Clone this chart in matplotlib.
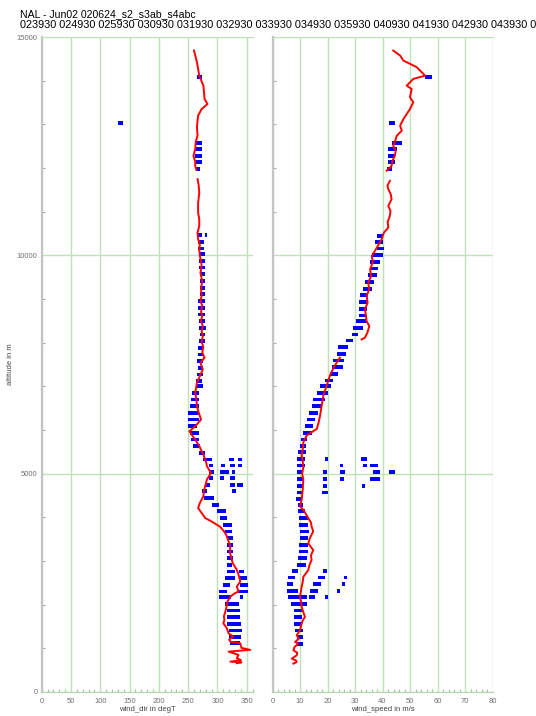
import numpy as np
import matplotlib
matplotlib.use("Agg")
import matplotlib.pyplot as plt
from matplotlib.ticker import MultipleLocator

plt.rcParams["font.family"] = ["Liberation Sans", "DejaVu Sans"]

nan = float("nan")

TITLE = "NAL - Jun02 020624_s2_s3ab_s4abc"
TIMES = ["023930", "024930", "025930", "030930", "031930", "032930", "033930",
         "034930", "035930", "040930", "041930", "042930", "043930", "044930"]

# red profile, wind direction (altitude m, degT); nan = gap in the trace
dir_alt = [14690, 14420, 14115, 13885, 13580, 13465, 13350, 13200, 12950, 12740,
           12600, 12430, 12280, 12150, 12050, 11960, nan, 11745, 11600, 11440,
           11200, 10980, 10820, 10675, 10520, 10370, 10250, 10140, 9985, 9870,
           9755, 9600, 9400, 9250, 9070, 8950, 8850, 8700, 8610, 8500, 8380,
           8260, 8150, 8020, 7900, 7780, 7655, 7540, 7385, 7235, 7080, 6850,
           6700, 6545, 6400, 6240, 6085, 5970, 5895, 5780, 5630, 5435, 5245,
           5170, 5015, 4865, 4710, 4600, 4480, 4330, 4215, 4100, 3985, 3905,
           3790, 3700, 3600, 3450, 3335, 3220, 3105, 2950, 2800, 2685, 2530,
           2415, 2300, 2265, 2185, 2070, 1920, 1820, 1730, 1650, 1575, 1460,
           1345, 1270, 1200, 1155, 1115, 1010, 965, 925, 850, 775, 730, 695,
           680, 660]
dir_val = [260, 265, 269, 276, 278, 283, 273, 267, 265, 266,
           263, 262, 259, 262, 262, 264, nan, 266, 268, 269,
           267, 267, 269, 269, 266, 267, 270, 269, 270, 272,
           273, 271, 274, 272, 273, 271, 274, 272, 274, 272, 275,
           273, 275, 273, 276, 274, 278, 271, 275, 270, 265, 262,
           264, 265, 268, 272, 262, 252, 256, 262, 269, 276, 281,
           282, 289, 282, 279, 277, 276, 270, 267, 273, 279, 290,
           304, 310, 315, 319, 322, 321, 323, 326, 333, 336, 339,
           333, 336, 330, 322, 317, 315, 313, 311, 312, 310, 316,
           319, 327, 320, 322, 339, 341, 356, 319, 336, 333, 340, 322,
           341, 333]

# red profile, wind speed (altitude m, m/s)
spd_alt = [14690, 14575, 14460, 14385, 14310, 14115, 14040, 13885, 13810, 13620,
           13505, 13350, 13235, 13120, 12970, 12855, 12740, 12620, 12510, 12400,
           12280, 12160, 12050, 11935, nan, 11705, 11600, 11515, 11400, 11285,
           11130, 11020, 10905, 10770, 10635, 10520, 10370, 10140, 9987, 9850,
           9681, 9530, 9375, 9220, 9069, 8920, 8763, 8620, 8495, 8380, 8228,
           8113, 8075, nan, 7655, 7480, 7250, 7020, 6790, 6560, 6330, 6180,
           6025, 5948, 5871, 5718, 5560, 5412, 5280, 5145, 5000, 4863, 4640,
           4404, 4251, 4175, 3984, 3880, 3792, 3678, 3525, 3404, 3250, 3130,
           3020, 2900, 2790, 2637, 2520, 2408, 2290, 2178, 2060, 1949, 1830,
           1720, 1640, 1567, 1414, 1300, 1220, 1147, 1109, 1030, 955, 900,
           841, 765, 720, 688, 650]
spd_val = [43.9, 46.4, 47.6, 50.0, 52.4, 55.5, 51.2, 48.8, 50.6, 50.0,
           51.2, 50.0, 48.8, 47.6, 46.4, 47.0, 45.2, 44.6, 43.9, 44.8,
           44.5, 43.6, 43.3, 41.5, nan, 42.7, 41.8, 42.1, 43.0, 43.3,
           42.1, 42.9, 42.7, 41.9, 42.1, 40.5, 39.7, 37.6, 36.1, 36.5,
           35.5, 35.9, 34.8, 35.2, 34.2, 34.6, 33.6, 34.0, 34.2, 35.2, 34.5,
           33.6, 32.4, nan, 24.5, 22.7, 20.9, 19.7, 18.5, 17.9, 17.3, 16.8,
           16.1, 14.2, 12.4, 11.2, 11.0, 10.6, 11.0, 11.2, 10.8, 11.2, 11.0,
           10.6, 10.0, 11.2, 13.0, 14.0, 14.2, 14.8, 13.6, 13.0, 14.8, 14.0,
           14.2, 13.4, 13.0, 11.2, 11.0, 10.6, 10.3, 10.0, 10.4, 10.6, 11.2,
           11.8, 11.0, 10.6, 10.0, 8.8, 9.6, 8.2, 9.4, 8.0, 7.6, 9.0,
           8.8, 7.0, 8.6, 8.8, 7.6]

# blue sounding marks: altitude, left and right end of each mark
bdir_alt = [14078, 13023, 12571, 12430, 12280, 12130, 11975, 10460, 10460, 10308,
            10155, 10025, 9872, 9719, 9566, 9413, 9260, 9107, 8954, 8801,
            8648, 8495, 8342, 8190, 8036, 7884, 7731, 7578, 7425, 7272,
            7119, 7004, 6851, 6698, 6545, 6392, 6240, 6087, 5934, 5781,
            5628, 5475, 5322, 5322, 5322, 5184, 5184, 5184, 5184, 5031,
            5031, 5031, 4893, 4893, 4893, 4748, 4748, 4748, 4595, 4595,
            4442, 4289, 4137, 3984, 3831, 3678, 3525, 3372, 3219, 3066,
            2913, 2760, 2760, 2607, 2607, 2454, 2454, 2302, 2302, 2172,
            2172, 2019, 1866, 1713, 1560, 1407, 1254, 1116]
bdir_lo = [265, 130, 263, 262, 262, 263, 264, 265, 278, 267,
           267, 268, 268, 268, 270, 270, 270, 270, 267, 267,
           267, 268, 269, 270, 268, 266, 266, 265, 266, 265,
           264, 264, 256, 254, 253, 250, 250, 250, 253, 254,
           258, 269, 276, 320, 335, 285, 306, 322, 335, 285,
           305, 324, 286, 305, 322, 278, 322, 334, 273, 324,
           277, 291, 299, 304, 310, 313, 316, 316, 316, 317,
           316, 316, 337, 313, 337, 310, 338, 303, 335, 302,
           338, 313, 316, 316, 317, 319, 320, 321]
bdir_hi = [274, 139, 273, 273, 273, 273, 271, 273, 283, 277,
           277, 278, 278, 278, 279, 279, 279, 279, 278, 278,
           278, 278, 281, 279, 278, 276, 276, 276, 276, 275,
           274, 276, 268, 268, 268, 268, 268, 265, 268, 268,
           271, 278, 291, 328, 342, 292, 313, 330, 342, 294,
           320, 330, 292, 312, 330, 287, 330, 343, 283, 331,
           294, 302, 314, 317, 324, 324, 326, 326, 326, 327,
           325, 330, 345, 330, 350, 321, 352, 316, 352, 323,
           344, 336, 339, 339, 340, 342, 340, 339]

bspd_alt = [14078, 13023, 12571, 12430, 12280, 12130, 11975, 10445, 10308, 10155,
            10002, 9849, 9696, 9543, 9390, 9237, 9084, 8931, 8778, 8625,
            8495, 8342, 8190, 8052, 7899, 7746, 7593, 7440, 7288, 7134,
            7004, 6851, 6698, 6545, 6392, 6240, 6087, 5934, 5781, 5628,
            5490, 5338, 5338, 5338, 5184, 5184, 5184, 5184, 5031, 5031,
            5031, 5031, 5031, 4878, 4878, 4878, 4878, 4725, 4725, 4725,
            4572, 4572, 4420, 4290, 4137, 3984, 3831, 3678, 3525, 3372,
            3219, 3066, 2913, 2775, 2775, 2622, 2622, 2622, 2469, 2469,
            2469, 2316, 2316, 2316, 2172, 2172, 2172, 2019, 1866, 1713,
            1560, 1407, 1254, 1101]
bspd_lo = [55.5, 42.2, 43.3, 42.1, 42.1, 42.1, 41.5, 37.9, 37.3, 37.9,
           36.1, 35.5, 35.5, 34.8, 33.6, 32.8, 31.8, 31.6, 31.6, 31.6,
           30.4, 29.4, 28.8, 26.7, 23.9, 23.3, 22.1, 21.5, 20.9, 19.1,
           17.3, 16.1, 14.8, 14.2, 13.4, 12.4, 11.8, 11.2, 10.2, 10.0,
           9.4, 8.8, 19.1, 32.1, 8.8, 24.5, 33.0, 35.5, 8.8, 18.5,
           24.5, 36.4, 42.2, 8.8, 18.5, 24.5, 35.5, 8.8, 18.5, 32.4,
           8.8, 17.9, 8.5, 9.1, 9.4, 9.7, 9.7, 10.0, 10.0, 9.7,
           9.7, 9.4, 8.8, 7.0, 18.5, 5.8, 16.7, 26.0, 5.2, 14.8,
           25.2, 5.2, 13.6, 23.3, 5.8, 13.4, 19.1, 6.6, 7.8, 7.8,
           7.8, 8.2, 8.8, 9.0]
bspd_hi = [58.0, 44.5, 47.0, 45.2, 44.5, 44.5, 43.3, 40.3, 40.1, 40.5,
           40.0, 39.1, 38.5, 37.9, 36.9, 36.1, 34.8, 34.2, 34.2, 34.0,
           34.2, 32.8, 31.2, 29.2, 27.6, 26.7, 26.0, 25.5, 23.9, 21.9,
           21.1, 20.3, 19.1, 17.9, 16.7, 15.5, 14.8, 14.2, 12.4, 12.2,
           12.2, 11.8, 20.3, 34.5, 11.8, 25.8, 34.5, 38.5, 11.2, 19.7,
           26.4, 39.1, 44.5, 11.2, 19.7, 26.0, 39.1, 11.2, 19.7, 33.6,
           11.2, 20.0, 10.6, 11.2, 11.8, 13.0, 13.0, 13.4, 13.0, 13.0,
           13.0, 12.7, 12.2, 9.4, 19.7, 8.2, 19.1, 27.2, 7.6, 17.5,
           26.4, 9.4, 16.7, 24.5, 12.4, 15.5, 20.3, 12.7, 10.6, 10.6,
           10.6, 11.0, 11.0, 11.0]

GRID = "#bfe3b8"
TICK_GREY = "#707070"


def style_panel(ax, xmax, major, minor, xlabel, ylabels):
    ax.set_xlim(0, xmax)
    ax.set_ylim(0, 15000)
    ax.set_xticks(np.arange(0, xmax + 1, major))
    ax.xaxis.set_minor_locator(MultipleLocator(minor))
    ax.set_yticks([0, 5000, 10000, 15000])
    ax.yaxis.set_minor_locator(MultipleLocator(1000))
    ax.grid(True, which="major", color=GRID, lw=1.0)
    ax.set_axisbelow(True)
    ax.spines["right"].set_visible(False)
    ax.spines["top"].set_color(GRID)
    ax.spines["bottom"].set_color("#b5d6b0")
    ax.spines["left"].set_color("#c4c4c4")
    ax.spines["left"].set_linewidth(1.6)
    ax.tick_params(axis="x", which="major", direction="in", length=0,
                   labelsize=5.5, labelcolor=TICK_GREY, pad=4)
    ax.tick_params(axis="x", which="minor", direction="in", length=2.5,
                   color="#9cc79a", width=0.8)
    ax.tick_params(axis="y", which="major", direction="in", length=0,
                   labelsize=5.5, labelcolor=TICK_GREY, pad=3,
                   labelleft=ylabels)
    ax.tick_params(axis="y", which="minor", direction="in", length=2.5,
                   color="#aaaaaa", width=0.8)
    ax.set_xlabel(xlabel, fontsize=5.5, color="#444444", labelpad=1)


fig = plt.figure(figsize=(5.36, 7.16), dpi=100)
ax1 = fig.add_axes([41.7 / 536, 24 / 716, 210.9 / 536, 655 / 716])
ax2 = fig.add_axes([272.5 / 536, 24 / 716, 220 / 536, 655 / 716])

style_panel(ax1, 360, 50, 10, "wind_dir in degT", True)
style_panel(ax2, 80, 10, 2, "wind_speed in m/s", False)
ax1.set_ylabel("altitude in m", fontsize=5.5, color="#444444")
ax1.yaxis.set_label_coords(-0.13, 0.5)

bar_h = 85
ax1.barh(bdir_alt, np.subtract(bdir_hi, bdir_lo), left=bdir_lo, height=bar_h,
         color="#0000ff", lw=0, zorder=3)
ax2.barh(bspd_alt, np.subtract(bspd_hi, bspd_lo), left=bspd_lo, height=bar_h,
         color="#0000ff", lw=0, zorder=3)

ax1.plot(dir_val, dir_alt, color="#ff0000", lw=1.4, zorder=4)
ax2.plot(spd_val, spd_alt, color="#ff0000", lw=1.4, zorder=4)

fig.text(20 / 536, 1 - 14 / 716, TITLE, fontsize=7.6, va="center")
# the run-time list is wider than the page and runs off the right edge
fig.text(20 / 536, 1 - 25 / 716, " ".join(TIMES), fontsize=7.8, va="center")

fig.savefig("out.png", dpi=100)
